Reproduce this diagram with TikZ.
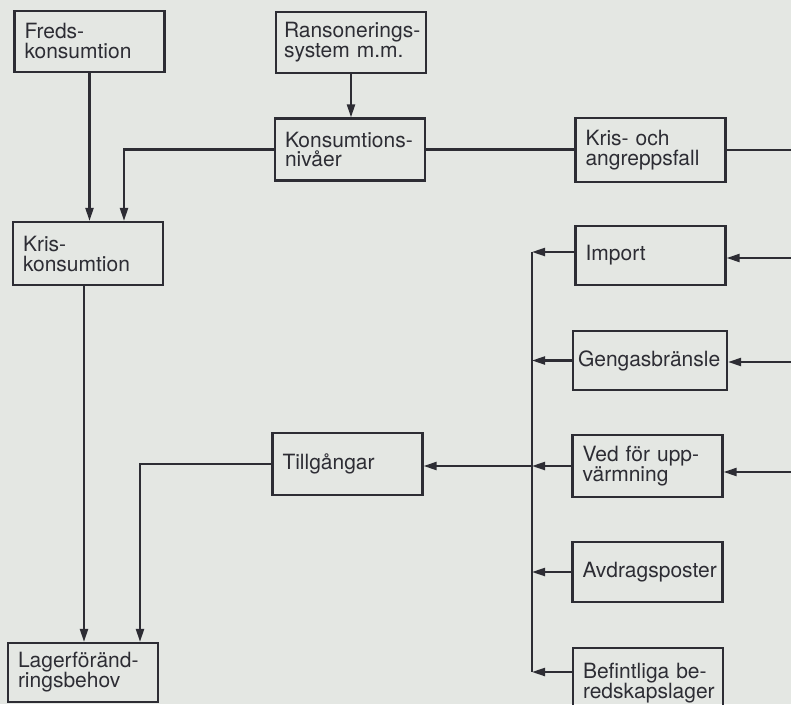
\documentclass[tikz,border=0pt]{standalone}
\usepackage{fontspec}
\setmainfont{TeX Gyre Heros}
\usetikzlibrary{arrows.meta,calc}
\definecolor{paper}{RGB}{228,231,227}
\definecolor{ink}{RGB}{45,45,52}
\begin{document}
\begin{tikzpicture}[x=1pt,y=-1pt,
  box/.style={draw=ink, line width=2.2pt, text=ink, minimum width=150pt,
    minimum height=61pt, text width=130pt, inner xsep=10pt, align=left,
    font=\fontsize{21}{20}\selectfont},
  arr/.style={draw=ink, line width=2.2pt, -{Triangle[length=13pt,width=8pt]}},
  ln/.style={draw=ink, line width=2.2pt}]
\fill[paper] (0,0) rectangle (791,704);
\useasboundingbox (0,0) rectangle (791,704);
\clip (0,0) rectangle (791,704);

% boxes
\node[box] (freds) at (89.5,41.5) {Freds-\\konsumtion};
\node[box, text width=134pt, inner xsep=8pt] (rans) at (351,42.5) {\mbox{Ransonerings-}\\system m.m.};
\node[box, minimum height=62pt] (kons) at (350,149.5) {\mbox{Konsumtions-}\\nivåer};
\node[box, minimum height=64pt] (krisoch) at (650.5,150) {Kris- och\\angreppsfall};
\node[box, minimum height=63pt] (kriskons) at (88,253.5) {Kris-\\konsumtion};
\node[box, minimum height=59pt] (import) at (650.5,255.5) {Import};
\node[box, minimum height=59pt, text width=144pt, inner xsep=5pt] (gengas) at (650,360.5) {\mbox{Gengasbränsle}};
\node[box, minimum height=62pt] (tillg) at (347.5,464) {Tillgångar};
\node[box, minimum height=62pt] (ved) at (647.5,466) {\mbox{Ved för upp-}\\värmning};
\node[box, minimum height=60pt] (avdrag) at (647.5,572) {\mbox{Avdragsposter}};
\node[box, minimum height=64pt, text depth=18pt] (befint) at (648,680) {\mbox{Befintliga be-}\\\mbox{redskapslager}};
\node[box, minimum height=59pt] (lager) at (83,672.5) {\mbox{Lagerföränd-}\\ringsbehov};

% left column
\draw[arr] (freds.south) -- (freds.south |- kriskons.north);
\draw[arr] (rans.south) -- (rans.south |- kons.north);
\draw[arr] (kons.west) -| ($(kriskons.north)+(36,0)$);
\coordinate (kk) at ($(kriskons.south)+(-4,0)$);
\draw[arr] (kk) -- (kk |- lager.north);
\draw[arr] (tillg.west) -| ($(lager.north)+(57,0)$);

% top right
\draw[ln] (kons.east) -- (kons.east -| krisoch.west);
\coordinate (rbot) at (793,472);
\draw[ln] (krisoch.east) -| (rbot);
\coordinate (r1) at (793,258);
\coordinate (r2) at (793,362);
\draw[arr] (r1) -- (r1 -| import.east);
\draw[arr] (r2) -- (r2 -| gengas.east);
\draw[arr] (rbot) -- (rbot -| ved.east);

% supply bus
\coordinate (lt) at (532,252);
\coordinate (lb) at (532,672);
\draw[arr] (lt -| import.west) -- (lt);
\draw[ln] (lt) -- (lb);
\draw[arr] (gengas.west) -- (gengas.west -| lt);
\draw[arr] (ved.west) -- (ved.west -| lt);
\draw[arr] (ved.west -| lt) -- (ved.west -| tillg.east);
\draw[arr] (avdrag.west) -- (avdrag.west -| lt);
\draw[arr] (lb -| befint.west) -- (lb);
\end{tikzpicture}
\end{document}
